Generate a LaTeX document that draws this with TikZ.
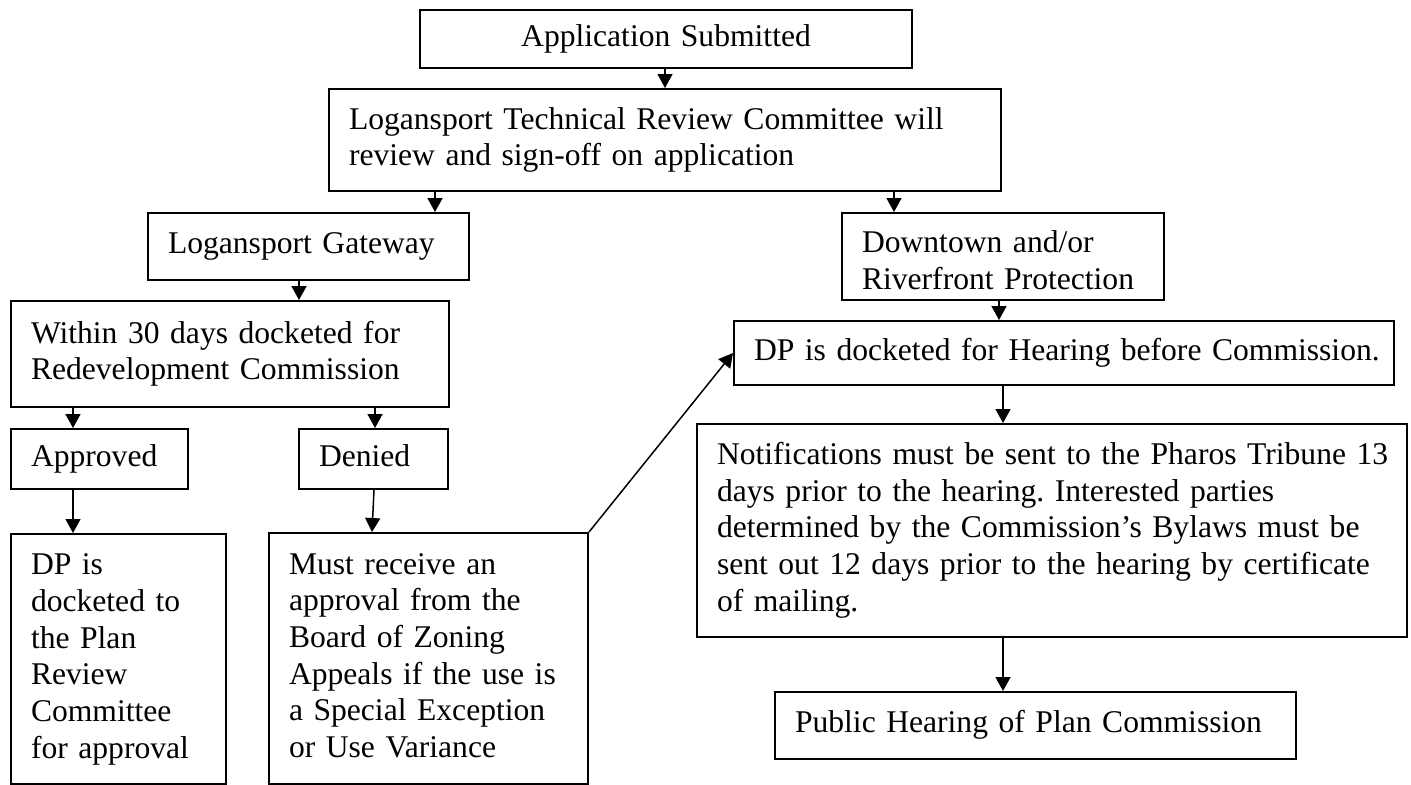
\documentclass[tikz,border=0pt]{standalone}
\usepackage{fontspec}
\setmainfont{Liberation Serif}
\usetikzlibrary{arrows.meta}
\begin{document}
\begin{tikzpicture}[x=0.5pt, y=-0.5pt,
    frame/.style = {draw, line width=1pt, anchor=north west, inner ysep=0pt, font=\fontsize{15.8}{18.35}\selectfont},
    box/.style = {frame, inner xsep=0pt, execute at begin node={\leftskip=10pt\relax\frenchspacing\strut}, execute at end node={\strut}},
    arr/.style = {line width=0.75pt, -{Triangle[length=7pt,width=7.5pt]}}]

    \useasboundingbox (0,0) rectangle (1411,784);

    \node[frame, align=center, inner xsep=10pt, text width=226pt, minimum height=29pt] (app) at (419,9) {Application Submitted};
    \node[box, text width=336pt, minimum height=51pt] (trc) at (328,88) {Logansport Technical Review Committee will\\review and sign-off on application};
    \node[box, text width=160.5pt, minimum height=33.5pt] (gate) at (147,212) {Logansport Gateway};
    \node[box, text width=161pt, minimum height=43.5pt, text height=19.8pt] (down) at (841,212) {Downtown and/or\\Riverfront Protection};
    \node[box, text width=219pt, minimum height=53pt] (within) at (10,300) {Within 30 days docketed for\\Redevelopment Commission};
    \node[box, text width=330pt, minimum height=32pt] (hear) at (733,320) {DP is docketed for Hearing before Commission.};
    \node[box, text width=88.5pt, minimum height=30pt] (appr) at (10,428) {Approved};
    \node[box, text width=74.5pt, minimum height=30pt] (deny) at (298,428) {Denied};
    \node[box, text width=355pt, minimum height=106.5pt] (notif) at (696,423) {Notifications must be sent to the Pharos Tribune 13\\days prior to the hearing. Interested parties\\determined by the Commission’s Bylaws must be\\sent out 12 days prior to the hearing by certificate\\of mailing.};
    \node[box, text width=107.5pt, minimum height=125pt] (dp) at (10,533) {DP is\\docketed to\\the Plan\\Review\\Committee\\for approval};
    \node[box, text width=159.5pt, minimum height=125.5pt] (must) at (268,532) {Must receive an\\approval from the\\Board of Zoning\\Appeals if the use is\\a Special Exception\\or Use Variance};
    \node[box, text width=260.5pt, minimum height=33.5pt] (pub) at (774,691) {Public Hearing of Plan Commission};

    \draw[arr] (app.south -| 665,0) -- (trc.north -| 665,0);
    \draw[arr] (trc.south -| 435,0) -- (gate.north -| 435,0);
    \draw[arr] (trc.south -| 894,0) -- (down.north -| 894,0);
    \draw[arr] (gate.south -| 299,0) -- (within.north -| 299,0);
    \draw[arr] (down.south -| 999,0) -- (hear.north -| 999,0);
    \draw[arr] (within.south -| 73,0) -- (appr.north -| 73,0);
    \draw[arr] (within.south -| 375,0) -- (deny.north -| 375,0);
    \draw[arr] (appr.south -| 73,0) -- (dp.north -| 73,0);
    \draw[arr] (deny.south -| 374,0) -- (must.north -| 372,0);
    \draw[arr] (must.north east) -- (hear.west);
    \draw[arr] (hear.south -| 1003,0) -- (notif.north -| 1003,0);
    \draw[arr] (notif.south -| 1003,0) -- (pub.north -| 1003,0);

\end{tikzpicture}
\end{document}
